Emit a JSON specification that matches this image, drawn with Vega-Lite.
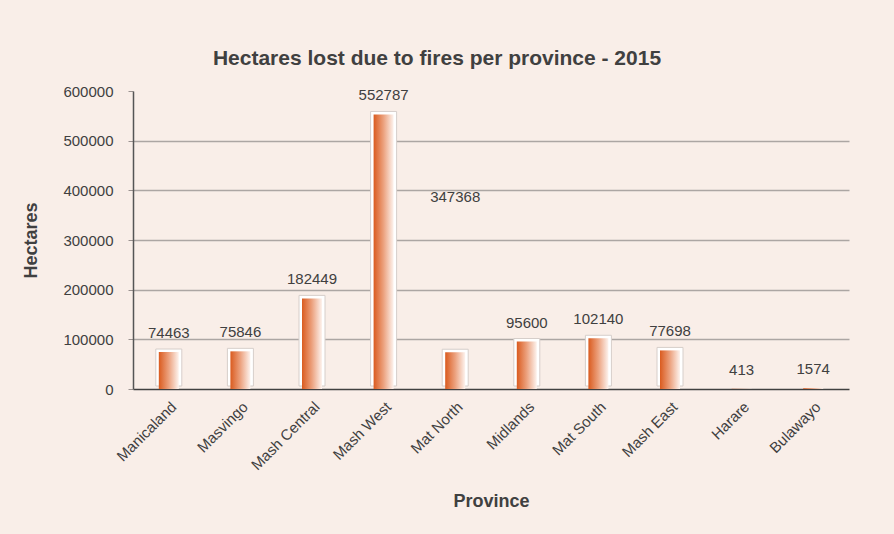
{
  "$schema": "https://vega.github.io/schema/vega-lite/v6.json",
  "width": 716,
  "height": 298,
  "autosize": {"type": "none"},
  "padding": {"left": 133, "top": 91, "right": 45, "bottom": 145},
  "background": "#f9eee8",
  "title": {
    "text": "Hectares lost due to fires per province - 2015",
    "font": "Liberation Sans",
    "fontSize": 21,
    "fontWeight": "bold",
    "color": "#404040",
    "anchor": "middle",
    "frame": "group",
    "dx": -54,
    "offset": 15
  },
  "config": {
    "view": {"stroke": null},
    "font": "Liberation Sans",
    "axis": {
      "labelFont": "Liberation Sans",
      "titleFont": "Liberation Sans",
      "labelColor": "#404040",
      "titleColor": "#404040",
      "labelFontSize": 15,
      "titleFontSize": 18,
      "titleFontWeight": "bold"
    }
  },
  "data": {
    "values": [
      {"province": "Manicaland", "hectares": 74463, "bar": 74463},
      {"province": "Masvingo", "hectares": 75846, "bar": 75846},
      {"province": "Mash Central", "hectares": 182449, "bar": 182449},
      {"province": "Mash West", "hectares": 552787, "bar": 552787},
      {"province": "Mat North", "hectares": 347368, "bar": 74000},
      {"province": "Midlands", "hectares": 95600, "bar": 95600},
      {"province": "Mat South", "hectares": 102140, "bar": 102140},
      {"province": "Mash East", "hectares": 77698, "bar": 77698},
      {"province": "Harare", "hectares": 413, "bar": 413},
      {"province": "Bulawayo", "hectares": 1574, "bar": 1574}
    ]
  },
  "encoding": {
    "x": {
      "field": "province",
      "type": "nominal",
      "sort": null,
      "title": "Province",
      "scale": {"paddingInner": 0, "paddingOuter": 0},
      "axis": {
        "labelAngle": -45,
        "labelPadding": 10,
        "ticks": false,
        "domainColor": "#404040",
        "domainWidth": 1.5,
        "titlePadding": 20
      }
    }
  },
  "layer": [
    {
      "mark": {"type": "bar", "size": 26, "color": "#ffffff", "stroke": "#d6ceca", "strokeWidth": 1, "yOffset": -3},
      "encoding": {
        "y": {
          "field": "bar",
          "type": "quantitative",
          "title": "Hectares",
          "scale": {"domain": [0, 600000]},
          "axis": {
            "values": [0, 100000, 200000, 300000, 400000, 500000, 600000],
            "format": "d",
            "labelPadding": 15,
            "tickSize": 5,
            "tickColor": "#9a9290",
            "domainColor": "#555555",
            "domainWidth": 1.5,
            "gridColor": "#aca6a3",
            "gridWidth": 1.3,
            "gridOpacity": {"condition": {"test": "datum.value >= 600000 || datum.value == 0", "value": 0}, "value": 1},
            "titlePadding": 22
          }
        },
        "opacity": {"condition": {"test": "datum.bar < 5000", "value": 0}, "value": 1}
      }
    },
    {
      "mark": {
        "type": "bar",
        "size": 20,
        "color": {
          "gradient": "linear",
          "x1": 0, "y1": 0, "x2": 1, "y2": 0,
          "stops": [
            {"offset": 0, "color": "#da5b1f"},
            {"offset": 0.5, "color": "#eca27f"},
            {"offset": 1, "color": "#fdf3ee"}
          ]
        }
      },
      "encoding": {
        "y": {"field": "bar", "type": "quantitative"}
      }
    },
    {
      "mark": {"type": "text", "fontSize": 15, "color": "#404040", "baseline": "alphabetic", "dy": -14},
      "encoding": {
        "y": {"field": "hectares", "type": "quantitative"},
        "text": {"field": "hectares", "type": "quantitative", "format": "d"}
      }
    }
  ]
}
